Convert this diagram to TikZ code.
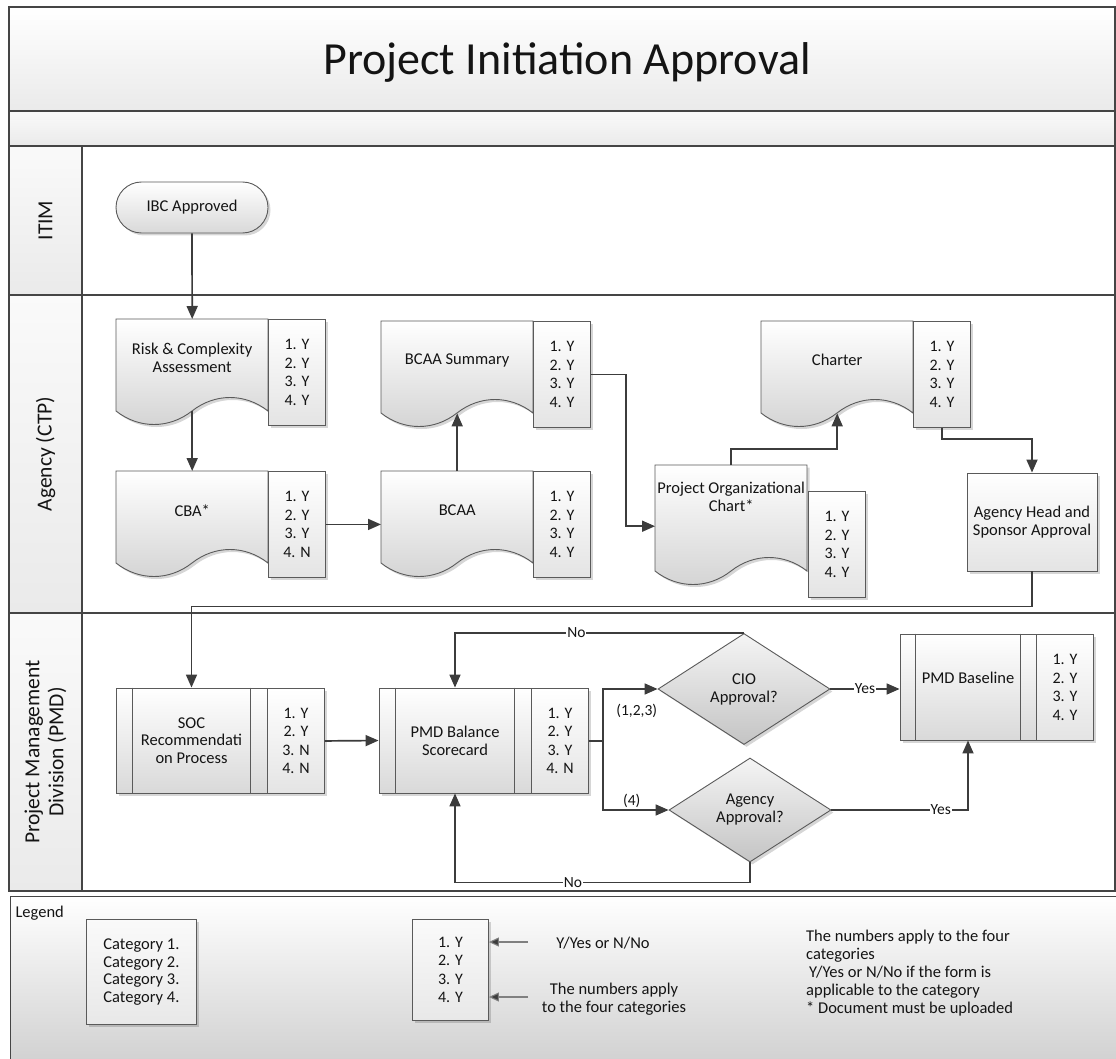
\documentclass[tikz,border=0pt]{standalone}
\usepackage{fontspec}
\setmainfont{Carlito}
\usetikzlibrary{arrows.meta,shapes.geometric,shadows,calc}

\definecolor{edge}{HTML}{5A5A5A}
\definecolor{wirecol}{HTML}{3C3C3C}
\definecolor{laneln}{HTML}{454545}
\definecolor{docbot}{HTML}{D3D3D3}
\definecolor{listbot}{HTML}{E4E4E4}
\definecolor{procbot}{HTML}{D9D9D9}
\definecolor{decbot}{HTML}{C4C4C4}
\definecolor{titlebot}{HTML}{EAEAEA}
\definecolor{headbot}{HTML}{EAEAEA}
\definecolor{legbot}{HTML}{CFCFCF}

\tikzset{
  shadowed/.style={drop shadow={shadow xshift=2.5pt,shadow yshift=-2.5pt,fill=black,opacity=0.16}},
  txt/.style={font=\fontsize{16.5}{18}\selectfont, text=black!92},
  docfill/.style={draw=edge, line width=0.9pt, top color=white, bottom color=docbot, shadowed},
  docarea/.style={txt, anchor=north west, minimum width=152pt, minimum height=78pt, inner sep=0pt, align=center},
  listbox/.style={draw=edge, line width=0.9pt, top color=white, bottom color=listbot, shadowed,
    anchor=north west, minimum width=57pt, minimum height=106pt, inner sep=0pt, align=center,
    font=\fontsize{16}{18.5}\selectfont, text=black!92},
  procbox/.style={txt, draw=edge, line width=0.9pt, top color=white, bottom color=listbot, shadowed,
    inner sep=2pt, align=center},
  subproc/.style={procbox, bottom color=procbot},
  decision/.style={txt, diamond, draw=edge, line width=0.9pt, top color=black!4, bottom color=decbot,
    shadowed, inner sep=0pt, align=center},
  startbox/.style={txt, draw=edge, line width=0.9pt, rounded corners=25.5pt, top color=white,
    bottom color=procbot, shadowed, minimum width=152pt, minimum height=51pt, inner sep=0pt},
  wire/.style={draw=wirecol, line width=1.7pt, -{Triangle[length=13pt,width=11pt]}},
  plainwire/.style={draw=wirecol, line width=1.7pt},
  legwire/.style={draw=black!50, line width=1.1pt, -{Triangle[length=10pt,width=9pt,fill=wirecol]}},
  wirelabel/.style={txt, font=\fontsize{15.5}{17}\selectfont, fill=white, inner sep=1pt},
  lane/.style={draw=laneln, line width=1.3pt},
  lanetitle/.style={font=\fontsize{21.5}{24}\selectfont, rotate=90, align=center, text=black!92},
  bar/.style={draw=edge, line width=0.9pt},
}

% document symbol: left x, top y, height of the wavy bottom's mid line
\newcommand\docshape[3]{%
  \path[docfill] (#1,#2) -- (#1+152,#2) -- (#1+152,#2+#3)
    .. controls (#1+129.2,#2+#3-18) and (#1+98.8,#2+#3-18) .. (#1+76,#2+#3)
    .. controls (#1+53.2,#2+#3+18) and (#1+22.8,#2+#3+18) .. (#1,#2+#3) -- cycle;}

% vertical side bars of a predefined-process box
\newcommand\sidebars[2]{%
  \draw[bar] ([xshift=#2]#1.north west) -- ([xshift=#2]#1.south west);
  \draw[bar] ([xshift=-#2]#1.north east) -- ([xshift=-#2]#1.south east);}

\begin{document}
\begin{tikzpicture}[x=1pt,y=-1pt]
\useasboundingbox (0,0) rectangle (1116,1059);
\clip (0,0) rectangle (1116,1059);
\fill[white] (0,0) rectangle (1116,1059);

% ---------- frame: title, spacer band and swimlanes ----------
\shade[top color=white, bottom color=titlebot] (9,7) rectangle (1115,111);
\draw[lane] (9,7) rectangle (1115,111);
\shade[top color=black!2, bottom color=titlebot] (9,111) rectangle (1115,146);
\draw[lane] (9,111) rectangle (1115,146);

\foreach \ya/\yb in {146/295, 295/613, 613/891}{
  \draw[lane] (9,\ya) rectangle (1115,\yb);
  \shade[top color=black!2, bottom color=headbot] (9,\ya) rectangle (82,\yb);
  \draw[lane] (9,\ya) rectangle (82,\yb);
}

\shade[top color=white, bottom color=legbot] (10,896) rectangle (1125,1070);
\draw[lane, line width=1pt] (10,1070) -- (10,896) -- (1125,896);

\node[font=\fontsize{46}{52}\selectfont, text=black!92] (title) at (567,62) {Project Initiation Approval};

\node[lanetitle] (itimT) at (45.5,220.5) {ITIM};
\node[lanetitle] (ctpT) at (45.5,454) {Agency (CTP)};
\node[lanetitle] (pmdT) at (45.5,752) {Project Management\\Division (PMD)};

% ---------- ITIM ----------
\node[startbox] (ibc) at (192,207.5) {IBC Approved};

% ---------- Agency (CTP) ----------
\docshape{116}{319}{92}
\node[docarea] (risk) at (116,319) {Risk \& Complexity\\Assessment};
\node[listbox] (riskL) at (268,319) {1. Y\\2. Y\\3. Y\\4. Y};

\docshape{116}{471}{92}
\node[docarea] (cba) at (116,471) {CBA*};
\node[listbox] (cbaL) at (268,471) {1. Y\\2. Y\\3. Y\\4. N};

\docshape{381}{471}{92}
\node[docarea] (bcaa) at (381,471) {BCAA};
\node[listbox] (bcaaL) at (533,471) {1. Y\\2. Y\\3. Y\\4. Y};

\docshape{381}{321}{92}
\node[docarea] (bsum) at (381,321) {BCAA Summary};
\node[listbox] (bsumL) at (533,321) {1. Y\\2. Y\\3. Y\\4. Y};

\docshape{655}{465}{106}
\node[docarea, minimum height=64pt] (org) at (655,465) {Project Organizational\\Chart*};
\node[listbox] (orgL) at (808,491) {1. Y\\2. Y\\3. Y\\4. Y};

\docshape{761}{321}{92}
\node[docarea] (charter) at (761,321) {Charter};
\node[listbox] (charterL) at (913,321) {1. Y\\2. Y\\3. Y\\4. Y};

\node[procbox, minimum width=130pt, minimum height=98pt] (head) at (1032,522)
  {Agency Head and\\Sponsor Approval};

% ---------- Project Management Division ----------
\node[subproc, minimum width=151pt, minimum height=105pt, font=\fontsize{16.5}{17.5}\selectfont]
  (soc) at (191.5,740.5) {SOC\\Recommendati\\on Process};
\sidebars{soc}{17pt}
\node[listbox, minimum height=105pt] (socL) at (267,688) {1. Y\\2. Y\\3. N\\4. N};

\node[subproc, minimum width=152pt, minimum height=105pt] (pmdb) at (455,740.5) {PMD Balance\\Scorecard};
\sidebars{pmdb}{17pt}
\node[listbox, minimum height=105pt] (pmdbL) at (531,688) {1. Y\\2. Y\\3. Y\\4. N};

\node[decision, minimum width=172pt, minimum height=111pt] (cio) at (744,689) {CIO\\Approval?};
\node[decision, minimum width=162pt, minimum height=104pt] (agy) at (750,810) {Agency\\Approval?};

\node[subproc, minimum width=136pt, minimum height=106pt, text height=11pt, text depth=19pt]
  (base) at (968,687) {PMD Baseline};
\sidebars{base}{16pt}
\node[listbox] (baseL) at (1036,634) {1. Y\\2. Y\\3. Y\\4. Y};

% ---------- connectors ----------
\draw[wire] (ibc.south) -- (risk.north);
\draw[wire] ([yshift=-14pt]risk.south) -- (cba.north);
\draw[wire] (cbaL.east) -- (cbaL.east -| bcaa.west);
\draw[wire] (bcaa.north) -- ([yshift=-14pt]bsum.south);
\draw[wire] (bsumL.east) -- ++(35,0) |- ([yshift=-29pt]org.west);
\draw[wire] (org.north) -- ++(0,-16) -| ([yshift=-14pt]charter.south);
\draw[wire] (charterL.south) -- ++(0,11) -| (head.north);
\draw[wire] (head.south) -- ++(0,35) -| (soc.north);
\draw[wire] (socL.east) -- (pmdb.west);
\draw[plainwire] (pmdbL.east) -- ++(14,0) coordinate (split);
\draw[wire] (split) |- node[wirelabel, fill=none, pos=0.81, below=13pt] {(1,2,3)} (cio.west);
\draw[wire] (split) |- node[wirelabel, fill=none, pos=0.72, above=1pt] {(4)} (agy.west);
\draw[wire] (cio.north) -| node[wirelabel, pos=0.29] {No} (pmdb.north);
\draw[wire] (agy.south) -- ++(0,20) -| node[wirelabel, pos=0.3] {No} (pmdb.south);
\draw[wire] (cio.east) -- node[wirelabel] {Yes} (cio.east -| base.west);
\draw[wire] (agy.east) -| node[wirelabel, pos=0.4] {Yes} (base.south);

% ---------- legend ----------
\node[txt, anchor=west] (legend) at (12,913) {Legend};
\node[procbox, anchor=north west, minimum width=110pt, minimum height=105pt, align=left,
  top color=black!2, bottom color=black!9, font=\fontsize{16.5}{17.5}\selectfont] (cats) at (86,919)
  {Category 1.\\Category 2.\\Category 3.\\Category 4.};
\node[listbox, minimum width=76pt, minimum height=101pt, top color=black!2, bottom color=black!9]
  (legL) at (412,919) {1. Y\\2. Y\\3. Y\\4. Y};
\coordinate (ynEnd) at (528,942);
\coordinate (numEnd) at (528,997);
\draw[legwire] (ynEnd) -- (ynEnd -| legL.east);
\draw[legwire] (numEnd) -- (numEnd -| legL.east);
\node[txt] (ynT) at (603,943) {Y/Yes or N/No};
\node[txt, align=center] (numT) at (614,999) {The numbers apply\\to the four categories};
\node[txt, anchor=north west, align=left, inner sep=0pt] (notes) at (806,930)
  {The numbers apply to the four\\categories\\\hspace{3pt}Y/Yes or N/No if the form is\\applicable to the category\\* Document must be uploaded};
\end{tikzpicture}
\end{document}
